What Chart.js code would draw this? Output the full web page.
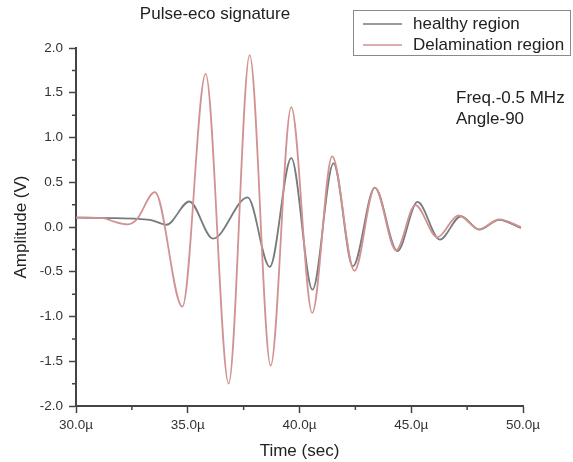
<!DOCTYPE html>
<html>
<head>
<meta charset="utf-8">
<title>Pulse-eco signature</title>
<script src="https://cdn.jsdelivr.net/npm/chart.js@4.4.1/dist/chart.umd.min.js"></script>
<style>
    html, body { margin: 0; padding: 0; background: #fff; }
    #wrap { width: 573px; height: 462px; }
</style>
</head>
<body>
<div id="wrap"><canvas id="pulse-chart" width="573" height="462"></canvas></div>
<script>
// Time samples in microseconds, amplitudes in volts
var healthyTime = [30.0, 31.5, 32.8, 33.4, 34.05, 35.07, 36.13, 37.68, 38.67, 39.63, 40.58, 41.52, 42.39, 43.37, 44.38, 45.28, 46.28, 47.22, 48.04, 48.93, 49.91];
var healthyAmp  = [0.105, 0.10, 0.09, 0.075, 0.025, 0.285, -0.13, 0.33, -0.445, 0.77, -0.70, 0.71, -0.44, 0.44, -0.27, 0.28, -0.14, 0.12, -0.03, 0.08, -0.01];

var delamTime = [30.0, 31.2, 31.7, 32.3, 32.7, 33.53, 34.76, 35.80, 36.83, 37.77, 38.71, 39.63, 40.57, 41.46, 42.46, 43.37, 44.32, 45.18, 46.17, 47.11, 48.04, 48.93, 49.91];
var delamAmp  = [0.105, 0.10, 0.06, 0.03, 0.08, 0.39, -0.89, 1.71, -1.75, 1.92, -1.55, 1.34, -0.96, 0.79, -0.49, 0.44, -0.26, 0.245, -0.115, 0.13, -0.025, 0.085, 0.0];

var xMinorTicks = [32.5, 37.5, 42.5, 47.5];
var yMinorTicks = [-1.75, -1.25, -0.75, -0.25, 0.25, 0.75, 1.25, 1.75];

var seriesNames = ['healthy region', 'Delamination region'];
var seriesColors = ['#777b7b', '#d29292'];
var notes = ['Freq.-0.5 MHz', 'Angle-90'];

var FONT = '"Liberation Sans", Arial, sans-serif';
var AXIS_COLOR = '#444';

function toPoints(xs, ys) {
    return xs.map((x, i) => ({ x: x, y: ys[i] }));
}

/**
 * Short minor ticks between the labelled ones
 */
var minorTicks = {
    id: 'minorTicks',
    afterDraw(chart) {
        let ctx = chart.ctx,
            x = chart.scales.x,
            y = chart.scales.y,
            len = 4;
        ctx.save();
        ctx.strokeStyle = AXIS_COLOR;
        ctx.lineWidth = 1.5;
        ctx.beginPath();
        for (let v of xMinorTicks) {
            let px = x.getPixelForValue(v);
            ctx.moveTo(px, x.top);
            ctx.lineTo(px, x.top + len);
        }
        for (let v of yMinorTicks) {
            let py = y.getPixelForValue(v);
            ctx.moveTo(y.right, py);
            ctx.lineTo(y.right - len, py);
        }
        ctx.stroke();
        ctx.restore();
    }
};

/**
 * Title, boxed legend and the measurement notes
 */
var extras = {
    id: 'extras',
    afterDraw(chart) {
        let ctx = chart.ctx;
        ctx.save();
        ctx.fillStyle = '#222';
        ctx.font = '17px ' + FONT;
        ctx.textBaseline = 'middle';

        ctx.textAlign = 'center';
        ctx.fillText('Pulse-eco signature', 215, 14);

        // legend box
        ctx.strokeStyle = '#8a8a8a';
        ctx.lineWidth = 1;
        ctx.strokeRect(353.5, 10.5, 217, 45);
        ctx.textAlign = 'left';
        let rows = [24, 45];
        for (let i = 0; i < seriesNames.length; i++) {
            ctx.strokeStyle = seriesColors[i];
            ctx.lineWidth = 1.5;
            ctx.beginPath();
            ctx.moveTo(363, rows[i]);
            ctx.lineTo(402, rows[i]);
            ctx.stroke();
            ctx.fillText(seriesNames[i], 413, rows[i]);
        }

        ctx.fillText(notes[0], 456, 98);
        ctx.fillText(notes[1], 456, 119);
        ctx.restore();
    }
};

var ctx = document.getElementById('pulse-chart');
var chart = new Chart(ctx, {
    type: 'line',
    data: {
        datasets: [{
            label: seriesNames[0],
            data: toPoints(healthyTime, healthyAmp),
            borderColor: seriesColors[0],
            borderWidth: 1.8,
            pointRadius: 0,
            cubicInterpolationMode: 'monotone',
            order: 2
        }, {
            label: seriesNames[1],
            data: toPoints(delamTime, delamAmp),
            borderColor: seriesColors[1],
            borderWidth: 1.8,
            pointRadius: 0,
            cubicInterpolationMode: 'monotone',
            order: 1
        }]
    },
    options: {
        responsive: false,
        animation: false,
        layout: {
            padding: { top: 48, right: 50, left: 0, bottom: 0 }
        },
        plugins: {
            legend: { display: false },
            title: { display: false },
            tooltip: { enabled: false }
        },
        scales: {
            x: {
                type: 'linear',
                min: 30,
                max: 50,
                afterFit: function (scale) { scale.height = 56; },
                border: { display: true, color: AXIS_COLOR, width: 2 },
                grid: { drawOnChartArea: false, drawTicks: true, tickLength: 7, tickWidth: 1.5, tickColor: AXIS_COLOR },
                ticks: {
                    stepSize: 5,
                    padding: 4,
                    maxRotation: 0,
                    color: '#333',
                    font: { family: FONT, size: 13.5 },
                    callback: v => v.toFixed(1) + '\u00b5'
                },
                title: {
                    display: true,
                    text: 'Time (sec)',
                    color: '#222',
                    font: { family: FONT, size: 17 },
                    padding: { top: 0, bottom: 0 }
                }
            },
            y: {
                min: -2,
                max: 2,
                afterFit: function (scale) { scale.width = 76; },
                border: { display: true, color: AXIS_COLOR, width: 2 },
                grid: { drawOnChartArea: false, drawTicks: true, tickLength: 7, tickWidth: 1.5, tickColor: AXIS_COLOR },
                ticks: {
                    stepSize: 0.5,
                    padding: 6,
                    color: '#333',
                    font: { family: FONT, size: 13.5 },
                    callback: v => v.toFixed(1)
                },
                title: {
                    display: true,
                    text: 'Amplitude (V)',
                    color: '#222',
                    font: { family: FONT, size: 17 },
                    padding: { top: 11, bottom: 0 }
                }
            }
        }
    },
    plugins: [minorTicks, extras]
});
</script>
</body>
</html>
